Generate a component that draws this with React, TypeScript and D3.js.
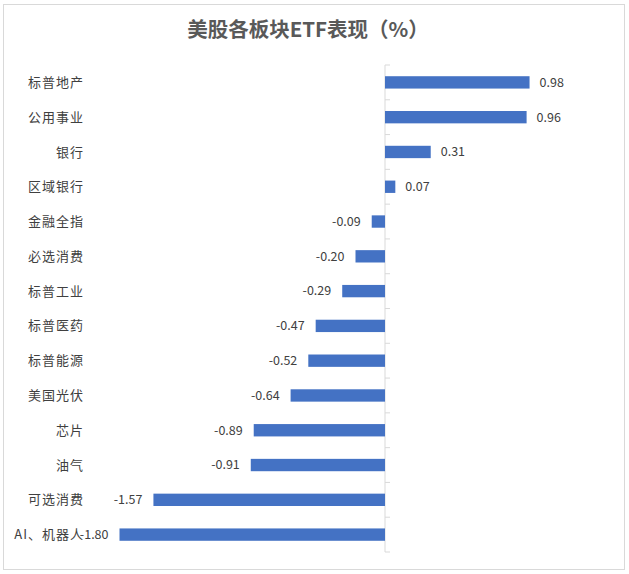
import React from "react";
import * as d3 from "d3";

const categories = ["标普地产","公用事业","银行","区域银行","金融全指","必选消费","标普工业","标普医药","标普能源","美国光伏","芯片","油气","可选消费","AI、机器人"];
const values = [0.98,0.96,0.31,0.07,-0.09,-0.20,-0.29,-0.47,-0.52,-0.64,-0.89,-0.91,-1.57,-1.80];
const title = "美股各板块ETF表现（%）";

const W = 629, H = 574;

export default function App() {
  const x = d3.scaleLinear().domain([-2, 1.2]).range([90, 562]);
  const y = d3.scaleBand<string>().domain(categories).range([65, 552]).padding(0);
  const bh = y.bandwidth() * 0.355;
  const x0 = x(0);
  const boundaries = d3.range(categories.length + 1).map(i => 65 + i * y.step());
  const font = "'Noto Sans CJK SC','Noto Sans',sans-serif";
  return (
    <svg width={W} height={H} style={{ position: "absolute", left: 0, top: 0 }} fontFamily={font}>
      <rect x={0} y={0} width={W} height={H} fill="#fff" />
      <rect x={3.5} y={4.5} width={621} height={565} fill="#fff" stroke="#d9d9d9" strokeWidth={1} />
      <text x={308} y={37} textAnchor="middle" fontSize={20.5} fontWeight={700} fill="#595959">{title}</text>
      <line x1={x0} x2={x0} y1={65} y2={552} stroke="#d9d9d9" strokeWidth={1} />
      {boundaries.map((b, i) => (
        <line key={i} x1={x0} x2={x0 + 5} y1={b} y2={b} stroke="#d9d9d9" strokeWidth={1} />
      ))}
      {values.map((v, i) => {
        const c = categories[i];
        const cy = (y(c) as number) + y.bandwidth() / 2;
        const xa = Math.min(x(v), x0), xb = Math.max(x(v), x0);
        return (
          <g key={c}>
            <rect x={xa} y={cy - bh / 2} width={xb - xa} height={bh} fill="#4472C4" />
            <text x={v >= 0 ? xb + 10 : xa - 11} y={cy} dy="0.35em" textAnchor={v >= 0 ? "start" : "end"} fontSize={12.5} fill="#404040">{v.toFixed(2)}</text>
          </g>
        );
      })}
      {categories.map((c) => {
        const cy = (y(c) as number) + y.bandwidth() / 2;
        return (
          <text key={c} x={84} y={cy} dy="0.35em" textAnchor="end" fontSize={13} letterSpacing={1} fill="#404040">{c}</text>
        );
      })}
    </svg>
  );
}
